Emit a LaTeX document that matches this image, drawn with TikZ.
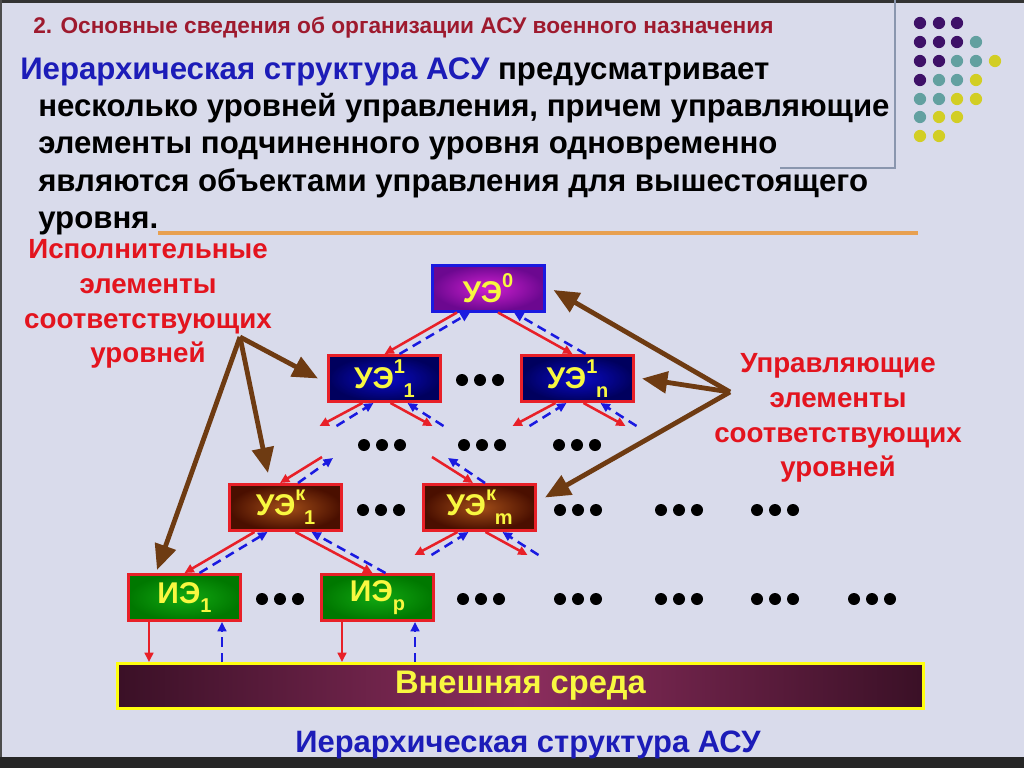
\documentclass[tikz,border=0pt]{standalone}
\usepackage{fontspec}
\setmainfont{Liberation Sans}
\usetikzlibrary{arrows.meta,calc}
\definecolor{bg}{HTML}{D9DBEB}
\definecolor{titlered}{HTML}{9E1A2E}
\definecolor{blueT}{HTML}{1C1CB8}
\definecolor{labelred}{HTML}{E3141E}
\definecolor{boxyellow}{HTML}{F8F840}
\definecolor{redline}{HTML}{E82028}
\definecolor{blueline}{HTML}{1A1AE0}
\definecolor{brownA}{HTML}{6E3B12}
\definecolor{dotP}{HTML}{3E1168}
\definecolor{dotT}{HTML}{62A0A0}
\definecolor{dotY}{HTML}{D2CE24}
\definecolor{frameg}{HTML}{8A96AE}
\definecolor{orangeL}{HTML}{E8A050}
\definecolor{purpIn}{HTML}{D020D0}
\definecolor{purpOut}{HTML}{6C0890}
\definecolor{blueIn}{HTML}{0A0AC8}
\definecolor{blueOut}{HTML}{00005E}
\definecolor{brownIn}{HTML}{A24E18}
\definecolor{brownOut}{HTML}{4A0F00}
\definecolor{greenIn}{HTML}{12A812}
\definecolor{greenOut}{HTML}{007800}
\definecolor{envEdge}{HTML}{3A1026}
\definecolor{envMid}{HTML}{8C2E5E}
\definecolor{envBorder}{HTML}{FFFF10}
\newcommand\supsub[2]{\raisebox{0.5em}{\fontsize{15}{15}\selectfont #1}\kern-1pt\raisebox{-0.3em}{\fontsize{15}{15}\selectfont #2}}
\newcommand\dotsat[2]{\foreach \dx in {-18,0,18}{\fill (#1+\dx,#2) circle[radius=4.5pt];}}
\begin{document}
\begin{tikzpicture}[x=0.75pt,y=-0.75pt,
  every node/.style={inner sep=0pt},
  boxbase/.style={line width=2.25pt, minimum width=84pt, minimum height=34.5pt,
    text=boxyellow, font=\bfseries\fontsize{22.5}{22.5}\selectfont},
  topbox/.style={boxbase, draw=blueline, inner color=purpIn, outer color=purpOut},
  bluebox/.style={boxbase, draw=redline, inner color=blueIn, outer color=blueOut},
  brownbox/.style={boxbase, draw=redline, inner color=brownIn, outer color=brownOut},
  greenbox/.style={boxbase, draw=redline, inner color=greenIn, outer color=greenOut},
  redarr/.style={draw=redline, line width=1.9pt, -{Triangle[length=7pt,width=6.5pt]}},
  bluearr/.style={draw=blueline, line width=1.9pt, dash pattern=on 7pt off 4.5pt, -{Triangle[length=7pt,width=6.5pt]}},
  brownarr/.style={draw=brownA, line width=3.6pt, -{Triangle[length=19pt,width=16pt]}},
  label/.style={text=labelred, align=center, font=\bfseries\fontsize{20.8}{26}\selectfont}
]
\useasboundingbox (0,0) rectangle (1024,768);
% background and frame
\fill[bg] (0,0) rectangle (1024,768);
\fill[black!85] (0,757) rectangle (1024,768);
\draw[black!80, line width=2.2pt] (0,1.5) -- (1024,1.5);
\draw[black!70, line width=1.5pt] (1,0) -- (1,757);
\draw[frameg, line width=0.9pt] (895,0) -- (895,168) -- (780,168);

% decorative dots
\foreach \c/\x/\y in {dotP/920/23,dotP/939/23,dotP/957/23,
  dotP/920/42,dotP/939/42,dotP/957/42,dotT/976/42,
  dotP/920/61,dotP/939/61,dotT/957/61,dotT/976/61,dotY/995/61,
  dotP/920/80,dotT/939/80,dotT/957/80,dotY/976/80,
  dotT/920/99,dotT/939/99,dotY/957/99,dotY/976/99,
  dotT/920/117,dotY/939/117,dotY/957/117,
  dotY/920/136,dotY/939/136}
  \fill[\c] (\x,\y) circle[radius=4.6pt];

% texts at top
\node[anchor=west, text=titlered, font=\bfseries\fontsize{17}{17}\selectfont] (title) at (33,28)
  {2. Основные сведения об организации АСУ военного назначения};
\node[anchor=north west, align=left, font=\bfseries\fontsize{23.4}{28.1}\selectfont] (para) at (38,57)
  {\hspace*{-13.5pt}\textcolor{blueT}{Иерархическая структура АСУ} предусматривает\\
   несколько уровней управления, причем управляющие\\
   элементы подчиненного уровня одновременно\\
   являются объектами управления для вышестоящего\\
   уровня.};
\draw[orangeL, line width=2.6pt] (158,233) -- (918,233);

% side labels
\node[label] (lleft) at (148,304) {Исполнительные\\элементы\\соответствующих\\уровней};
\node[label] (lright) at (838,418) {Управляющие\\элементы\\соответствующих\\уровней};

% boxes
\node[topbox] (ue0) at (488,288) {УЭ\raisebox{0.5em}{\fontsize{15}{15}\selectfont 0}};
\node[bluebox] (ue11) at (384.5,378.5) {УЭ\supsub{1}{1}};
\node[bluebox] (ue1n) at (577.5,378.5) {УЭ\supsub{1}{n}};
\node[brownbox] (uek1) at (285.5,507.5) {УЭ\supsub{к}{1}};
\node[brownbox] (uekm) at (479.5,507.5) {УЭ\supsub{к}{m}};
\node[greenbox] (ie1) at (184.5,597.5) {ИЭ\raisebox{-0.3em}{\fontsize{15}{15}\selectfont 1}};
\node[greenbox] (iep) at (377.5,597.5) {ИЭ\raisebox{-0.3em}{\fontsize{15}{15}\selectfont p}};
\node[draw=envBorder, line width=2.25pt, minimum width=604.5pt, minimum height=33.75pt,
  left color=envEdge, right color=envEdge, middle color=envMid,
  text=boxyellow, font=\bfseries\fontsize{24.5}{24.5}\selectfont] (env) at (520.5,686) {Внешняя среда};

\node[text=blueT, font=\bfseries\fontsize{23.2}{23.2}\selectfont] (bottomtitle) at (528,745) {Иерархическая структура АСУ};

% dots
\dotsat{480}{380}
\dotsat{382}{445}\dotsat{482}{445}\dotsat{577}{445}
\dotsat{381}{510}\dotsat{578}{510}\dotsat{679}{510}\dotsat{775}{510}
\dotsat{280}{599}\dotsat{481}{599}\dotsat{578}{599}\dotsat{679}{599}\dotsat{775}{599}\dotsat{872}{599}

% connectors between levels
\foreach \up/\dl/\dr in {ue0/ue11/ue1n, uek1/ie1/iep}{
  \draw[redarr] ($(\up.south)+(-31,0)$) -- ($(\dl.north)+(0,0)$);
  \draw[bluearr] ($(\dl.north)+(15,0)$) -- ($(\up.south)+(-18,0)$);
  \draw[redarr] ($(\up.south)+(10,0)$) -- ($(\dr.north)+(-5,0)$);
  \draw[bluearr] ($(\dr.north)+(8,0)$) -- ($(\up.south)+(26,0)$);
}
% stubs below
\foreach \b in {ue11,ue1n,uekm}{
  \draw[redarr] ($(\b.south)+(-22,0)$) -- ($(\b.south)+(-65,23)$);
  \draw[bluearr] ($(\b.south)+(-48,23)$) -- ($(\b.south)+(-11,0)$);
  \draw[redarr] ($(\b.south)+(6,0)$) -- ($(\b.south)+(48,23)$);
  \draw[bluearr] ($(\b.south)+(59,23)$) -- ($(\b.south)+(23,0)$);
}
% stubs above
\draw[redarr] ($(uek1.north)+(36.5,-26)$) -- ($(uek1.north)+(-5.5,0)$);
\draw[bluearr] ($(uek1.north)+(12.5,0)$) -- ($(uek1.north)+(47.5,-25)$);
\draw[redarr] ($(uekm.north)+(-47.5,-26)$) -- ($(uekm.north)+(-6.5,0)$);
\draw[bluearr] ($(uekm.north)+(5.5,0)$) -- ($(uekm.north)+(-31.5,-25)$);

% executive elements to environment
\foreach \e in {ie1,iep}{
  \path ($(\e.south)+(-35.5,0)$) coordinate (\e r) ($(\e.south)+(37.5,0)$) coordinate (\e b);
  \draw[redarr] (\e r) -- (\e r |- env.north);
  \draw[bluearr] (\e b |- env.north) -- (\e b);
}

% brown pointer arrows
\coordinate (L0) at (240,337);
\coordinate (R0) at (730,392);
\draw[brownarr] (L0) -- ($(ue11.west)+(-9,0)$);
\draw[brownarr] (L0) -- ($(uek1.north)+(-17.5,-10)$);
\draw[brownarr] (L0) -- ($(ie1.north)+(-27.5,-3)$);
\draw[brownarr] (R0) -- ($(ue0.east)+(8,2)$);
\draw[brownarr] (R0) -- ($(ue1n.east)+(7,0)$);
\draw[brownarr] (R0) -- ($(uekm.east)+(8,-10)$);
\end{tikzpicture}
\end{document}
